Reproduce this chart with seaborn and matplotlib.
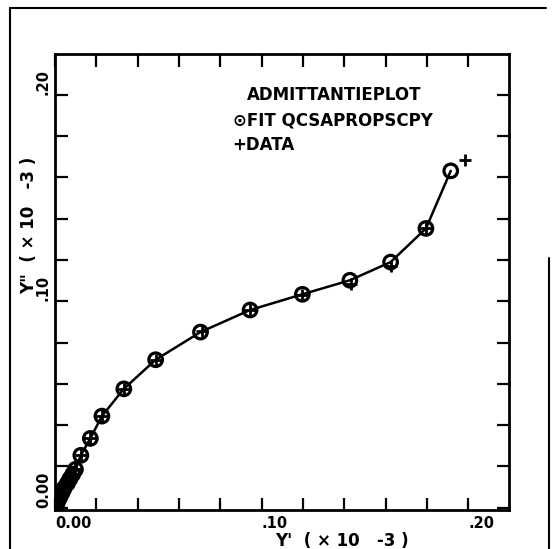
import numpy as np
import pandas as pd
import matplotlib
matplotlib.use('Agg')
import matplotlib.pyplot as plt
from matplotlib.lines import Line2D
import seaborn as sns

# Fitted admittance points (Y', Y'') in units of 1e-3
fit_x = [0.0000, 0.0003, 0.0008, 0.0012, 0.0018, 0.0025, 0.0035, 0.0045,
         0.0060, 0.0072, 0.0086, 0.0099, 0.0125, 0.0171, 0.0227, 0.0333,
         0.0487, 0.0704, 0.0944, 0.1197, 0.1427, 0.1624, 0.1795, 0.1915]
fit_y = [0.0000, 0.0008, 0.0018, 0.0028, 0.0042, 0.0055, 0.0075, 0.0096,
         0.0118, 0.0140, 0.0163, 0.0186, 0.0254, 0.0336, 0.0444, 0.0576,
         0.0717, 0.0851, 0.0958, 0.1034, 0.1102, 0.1190, 0.1353, 0.1632]

# Measured data points
data_x = [0.0000, 0.0003, 0.0008, 0.0012, 0.0018, 0.0025, 0.0035, 0.0045,
          0.0060, 0.0072, 0.0086, 0.0099, 0.0125, 0.0171, 0.0227, 0.0333,
          0.0487, 0.0710, 0.0944, 0.1197, 0.1430, 0.1626, 0.1795, 0.1982]
data_y = [0.0000, 0.0008, 0.0018, 0.0028, 0.0042, 0.0055, 0.0075, 0.0096,
          0.0118, 0.0140, 0.0163, 0.0186, 0.0254, 0.0336, 0.0444, 0.0576,
          0.0717, 0.0856, 0.0958, 0.1030, 0.1085, 0.1170, 0.1353, 0.1686]

tick_vals = [0.00, 0.02, 0.04, 0.06, 0.08, 0.10, 0.12, 0.14, 0.16, 0.18, 0.20]
tick_text = {0.00: '0.00', 0.10: '.10', 0.20: '.20'}

fit = pd.DataFrame({'x': fit_x, 'y': fit_y})
data = pd.DataFrame({'x': data_x, 'y': data_y})

sns.set_style('ticks')
plt.rcParams['font.family'] = ['DejaVu Sans']
plt.rcParams['text.color'] = 'black'
plt.rcParams['xtick.labelcolor'] = 'black'
plt.rcParams['ytick.labelcolor'] = 'black'

fig = plt.figure(figsize=(5.54, 5.49), dpi=100)
ax = fig.add_axes([0.0993, 0.071, 0.8195, 0.8306])

sns.lineplot(data=fit, x='x', y='y', ax=ax, color='black', lw=1.8,
             sort=False, estimator=None)
sns.scatterplot(data=fit, x='x', y='y', ax=ax, marker='o', s=95,
                facecolor='none', edgecolor='black', linewidth=2.3, zorder=3)
sns.scatterplot(data=data, x='x', y='y', ax=ax, marker='+', s=75,
                color='black', linewidth=2.0, zorder=4)

ax.set_xlim(0, 0.2197)
ax.set_ylim(-0.0011, 0.2198)
ax.set_xticks(tick_vals)
ax.set_yticks(tick_vals)
ax.set_xticklabels([tick_text.get(round(v, 2), '') for v in tick_vals],
                   fontweight='bold', fontsize=10.5, ha='left')
ax.set_yticklabels([tick_text.get(round(v, 2), '') for v in tick_vals],
                   fontweight='bold', fontsize=10.5, rotation=90, va='bottom')
ax.tick_params(direction='in', length=9, width=1.6, top=True, right=True,
               pad=3, color='black')
ax.tick_params(axis='x', pad=4)
for s in ax.spines.values():
    s.set_linewidth(2.0)
    s.set_color('black')
ax.set_xlabel('')
ax.set_ylabel('')

# labels
fig.text(0.617, 0.0145, "Y'  ( \u00d7 10   -3 )", fontsize=12, fontweight='bold',
         ha='center', va='center')
fig.text(0.052, 0.59, 'Y"  ( \u00d7 10   -3 )', fontsize=12, fontweight='bold',
         ha='center', va='center', rotation=90)

ax.text(0.445, 0.827, 'ADMITTANTIEPLOT', transform=fig.transFigure,
        fontsize=12, fontweight='bold', ha='left', va='center')
ax.text(0.42, 0.781, '\u2299FIT QCSAPROPSCPY', transform=fig.transFigure,
        fontsize=12, fontweight='bold', ha='left', va='center')
ax.text(0.42, 0.736, '+DATA', transform=fig.transFigure,
        fontsize=12, fontweight='bold', ha='left', va='center')

# outer frame of the scanned page
fig.add_artist(Line2D([0.018, 0.018], [0.0, 0.985], transform=fig.transFigure,
                      color='black', lw=1.5))
fig.add_artist(Line2D([0.018, 0.986], [0.985, 0.985], transform=fig.transFigure,
                      color='black', lw=1.5))
fig.add_artist(Line2D([0.991, 0.991], [0.0, 0.53], transform=fig.transFigure,
                      color='black', lw=1.5))

fig.savefig('out.png', dpi=100)
